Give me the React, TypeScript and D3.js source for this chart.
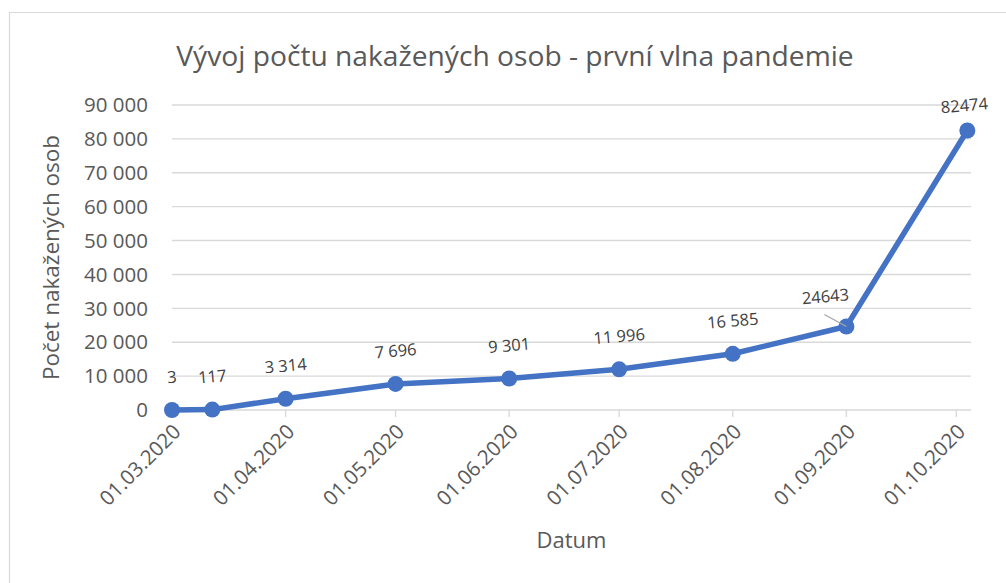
import React from 'react'
import * as d3 from 'd3'

// data
const dates = ['2020-03-01', '2020-03-12', '2020-04-01', '2020-05-01', '2020-06-01', '2020-07-01', '2020-08-01', '2020-09-01', '2020-10-04']
const cases = [3, 117, 3314, 7696, 9301, 11996, 16585, 24643, 82474]
const labelTexts = ['3', '117', '3 314', '7 696', '9 301', '11 996', '16 585', '24643', '82474']
const tickDates = ['2020-03-01', '2020-04-01', '2020-05-01', '2020-06-01', '2020-07-01', '2020-08-01', '2020-09-01', '2020-10-01']
const yTicks = [0, 10000, 20000, 30000, 40000, 50000, 60000, 70000, 80000, 90000]

const title = 'Vývoj počtu nakažených osob - první vlna pandemie'
const yTitle = 'Počet nakažených osob'
const xTitle = 'Datum'

const W = 1006
const H = 583
const margin = { left: 172, right: 35, top: 105, bottom: 173 }
const font = '"Open Sans", "Noto Sans", sans-serif'
const blue = '#4472C4'
const grey = '#595959'

// labels moved by hand in the original (Excel leader line etc.)
const labelNudge = { 7: [-21, 3], 8: [-3, 8] }

const parse = d3.utcParse('%Y-%m-%d')
const fmtTick = d3.utcFormat('%d.%m.%Y')
const fmtY = (v) => d3.format(',')(v).replace(/,/g, ' ')

export default function App() {
  const x = d3.scaleUtc()
    .domain([parse('2020-03-01'), parse('2020-10-05')])
    .range([margin.left, W - margin.right])
  const y = d3.scaleLinear()
    .domain([0, 90000])
    .range([H - margin.bottom, margin.top])

  const points = dates.map((d, i) => ({ date: parse(d), value: cases[i], label: labelTexts[i] }))
  const line = d3.line()
    .x(d => x(d.date))
    .y(d => y(d.value))

  const [x0, x1] = x.range()
  const y0 = y(0)

  return (
    <div style={{ position: 'absolute', left: 0, top: 0 }}>
      <svg width={W} height={H} style={{ display: 'block', fontFamily: font }}>
        <rect x={0} y={0} width={W} height={H} fill='#fff' />
        <path d={`M9.5,${H} V12.5 H${W}`} fill='none' stroke='#D9D9D9' strokeWidth={1.2} />

        <text x={515} y={66} textAnchor='middle' fontSize={28.2} fill={grey}>{title}</text>

        {/* gridlines */}
        <g>
          {yTicks.map(t => (
            <line key={t} x1={x0} x2={x1} y1={y(t)} y2={y(t)} stroke='#D9D9D9' strokeWidth={1.4} />
          ))}
        </g>

        {/* y tick labels */}
        <g fontSize={20.5} fill={grey} textAnchor='end'>
          {yTicks.map(t => (
            <text key={t} x={148} y={y(t)} dy='0.35em'>{fmtY(t)}</text>
          ))}
        </g>

        {/* x ticks */}
        <g>
          {tickDates.map(d => {
            const tx = x(parse(d))
            return (
              <g key={d}>
                <line x1={tx} x2={tx} y1={y0} y2={y0 + 7} stroke='#D9D9D9' strokeWidth={1.4} />
                <text transform={`translate(${tx + 5},${y0 + 18}) rotate(-45)`} textAnchor='end' dy='0.35em'
                  fontSize={20.5} fill={grey}>{fmtTick(parse(d))}</text>
              </g>
            )
          })}
        </g>

        <text transform={`translate(51,${(y(90000) + y0) / 2}) rotate(-90)`} textAnchor='middle' dy='0.35em'
          fontSize={22.5} fill={grey}>{yTitle}</text>
        <text x={(x0 + x1) / 2} y={548} textAnchor='middle' fontSize={22} fill={grey}>{xTitle}</text>

        {/* series */}
        <path d={line(points)} fill='none' stroke={blue} strokeWidth={5.5} strokeLinejoin='round' />
        {points.map((p, i) => (
          <circle key={i} cx={x(p.date)} cy={y(p.value)} r={8} fill={blue} />
        ))}

        {/* leader line for moved label */}
        {points.map((p, i) => {
          if (i !== 7) return null
          return <line key={i} x1={x(p.date) - 22} y1={y(p.value) - 12} x2={x(p.date)} y2={y(p.value)} stroke='#A6A6A6' strokeWidth={1.3} />
        })}

        {/* data labels */}
        <g fontSize={16.5} fill='#404040' textAnchor='middle'>
          {points.map((p, i) => {
            const [dx, dy] = labelNudge[i] || [0, 0]
            const lx = x(p.date) + dx
            const ly = y(p.value) - 33 + dy
            return (
              <text key={i} transform={`translate(${lx},${ly}) rotate(-5)`} dy='0.35em'>{p.label}</text>
            )
          })}
        </g>
      </svg>
    </div>
  )
}
